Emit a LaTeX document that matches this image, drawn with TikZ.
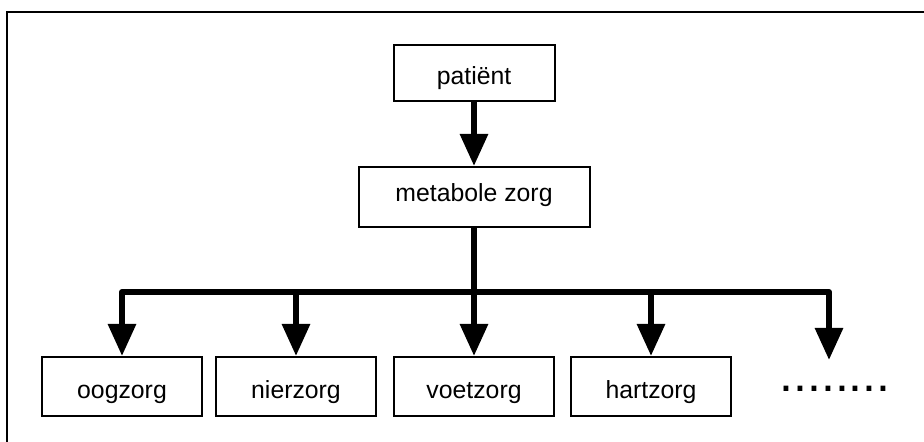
\documentclass[tikz,border=0pt]{standalone}
\usepackage{fontspec}
\setmainfont{Liberation Sans}
\usetikzlibrary{arrows.meta, positioning}
\tikzset{
    careBox/.style={draw, line width=1pt, inner sep=0pt,
        minimum width=80pt, minimum height=29.5pt,
        text height=14pt, text depth=2.5pt,
        font=\fontsize{12.4}{14}\selectfont},
    flowLine/.style={line width=3pt, line join=round,
        -{Triangle[width=13.5pt, length=16pt]}},
}
\begin{document}
\begin{tikzpicture}[x=0.5pt, y=-0.5pt]
    \useasboundingbox (0,0) rectangle (924,442);
    % frame, cut off at right and bottom
    \draw[line width=1.2pt] (7,442) -- (7,12) -- (924,12);

    % top of the chain
    \node[careBox, minimum width=80.5pt, minimum height=28pt] (patient) at (474,73) {patiënt};
    \node[careBox, minimum width=115.5pt, minimum height=30pt,
          text height=7.5pt] (metabole) at (474,197) {metabole zorg};
    \draw[flowLine] (patient) -- (metabole);

    % the care branches
    \foreach \name/\x/\label in {oog/122/oogzorg, nier/296/nierzorg,
                                 voet/474/voetzorg, hart/651/hartzorg} {
        \node[careBox] (\name) at (\x,386.5) {\label};
    }
    \node[font=\fontsize{25}{28}\selectfont, anchor=base, inner sep=0pt] (dots) at (835,391.5) {........};
    \coordinate (moreTip) at (829,360);

    \coordinate (hub) at (474,292);
    \draw[line width=3pt] (metabole) -- (hub);
    \foreach \target in {oog.north, nier.north, voet.north, hart.north, moreTip}
        \draw[flowLine] (hub) -| (\target);
\end{tikzpicture}
\end{document}
